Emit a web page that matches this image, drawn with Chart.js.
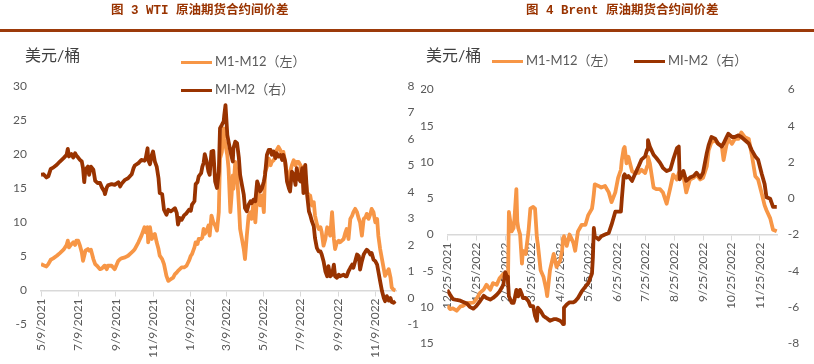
<!DOCTYPE html>
<html>
<head>
<meta charset="utf-8">
<script src="https://cdn.jsdelivr.net/npm/chart.js@4.4.0/dist/chart.umd.min.js"></script>
<style>
  body { margin: 0; background: #fff; }
  #page { position: relative; width: 814px; height: 364px; overflow: hidden; background: #fff;
          font-family: Lato, "Noto Sans CJK SC", sans-serif; }
  #brent { position: absolute; left: 404px; top: 0; z-index: 1; }
  #wtiBox { position: absolute; left: 0; top: 0; width: 421px; height: 364px; background: #fff; z-index: 2; }
  .title { position: absolute; top: 2px; z-index: 3; white-space: nowrap; color: #993300;
           font: bold 12.5px "Liberation Mono", "Noto Sans CJK SC", monospace; line-height: 18px; }
  .rule { position: absolute; left: 0; top: 29px; width: 814px; height: 3px; background: #9c3a0a; z-index: 3; }
  .unit { position: absolute; top: 46px; z-index: 3; font-size: 16px; line-height: 18px; color: #404040; }
  .leg { position: absolute; z-index: 3; font-size: 13px; line-height: 16px; color: #595959; white-space: nowrap; }
  .leg i { display: inline-block; width: 31px; height: 3px; vertical-align: middle; margin-right: 3px; }
</style>
</head>
<body>
<div id="page">
  <canvas id="brent" width="410" height="364"></canvas>
  <div id="wtiBox"><canvas id="wti" width="421" height="364"></canvas></div>

  <div class="rule"></div>
  <div class="title" style="left:111px">图 3 WTI 原油期货合约间价差</div>
  <div class="title" style="left:526px">图 4 Brent 原油期货合约间价差</div>

  <div class="unit" style="left:25px">美元/桶</div>
  <div class="unit" style="left:426px">美元/桶</div>

  <div class="leg" style="left:181px;top:53px"><i style="background:#f79646"></i>M1-M12（左）</div>
  <div class="leg" style="left:181px;top:81px"><i style="background:#993300"></i>MI-M2（右）</div>
  <div class="leg" style="left:492px;top:52px"><i style="background:#f79646"></i>M1-M12（左）</div>
  <div class="leg" style="left:634px;top:52px"><i style="background:#993300"></i>MI-M2（右）</div>
</div>

<script>
// series names
var seriesNames = ['M1-M12（左）', 'MI-M2（右）'];

// WTI: days after 5/9/2021
var wtiDays = [0,4,9,12,16,20,26,31,37,42,44,46,50,53,56,58,61,64,67,69,
  71,73,77,79,82,86,89,93,97,100,104,105,108,110,116,121,127,130,132,138,
  143,149,152,154,160,165,170,172,175,176,179,182,184,187,190,193,195,199,202,206,
  209,213,217,220,223,225,228,231,235,239,243,246,248,252,254,257,259,263,265,267,
  269,272,275,277,280,283,
  286,289,292,294,297,300,301,303,304,306,
  308,311,313,315,316,319,322,325,327,330,
  333,335,338,341,344,346,349,352,355,357,
  360,363,366,368,371,374,377,379,382,385,
  387,390,393,396,398,401,404,407,409,412,
  415,418,420,423,426,429,431,434,437,440,
  442,445,448,450,453,456,459,461,464,467,
  470,472,475,478,481,483,486,489,491,497,
  500,502,505,508,511,513,516,519,522,524,
  527,530,533,535,538,541,543,546,549,552,
  554,557,560,563,565,568,571,574,576,579,
  582];
var wtiM1M12 = [3.86,3.71,3.52,3.86,4.5,4.7,5.09,5.48,5.98,6.66,
  7.3,6.32,6.81,7.06,6.66,7.3,7.3,6.57,5.58,4.35,
  5.09,5.83,6.07,5.83,5.98,4.6,3.86,3.52,3.12,3.22,
  3.62,3.52,3.12,3.62,3.62,3.12,4.35,4.6,4.7,4.85,
  5.09,5.58,5.83,6.07,7.06,8.04,9.27,8.53,9.27,7.06,
  9.27,7.55,8.04,8.29,7.06,6.07,5.09,4.6,3.86,2.14,
  1.4,1.65,1.89,2.39,2.63,2.88,3.12,3.37,3.37,3.62,
  4.35,5.09,5.34,6.32,7.06,6.81,7.55,7.55,7.79,9.02,
  8.29,8.78,9.52,8.04,10.99,10.0,
  9.52,8.78,11.48,19.35,20.33,23.77,22.3,21.3,20.8,19.8,
  17.87,11.48,13.94,16.89,14.92,18.86,16.89,12.47,9.02,7.55,
  6.07,4.6,8.04,10.99,11.48,10.5,12.96,10.0,13.94,14.43,
  12.47,13.94,11.48,17.38,18.12,19.35,18.37,18.86,19.1,19.6,
  20.58,21.07,20.58,19.84,20.33,18.86,16.89,15.66,17.38,18.37,
  19.1,18.37,18.86,18.86,18.37,15.91,18.12,16.89,14.43,13.94,
  13.94,12.47,12.96,10.99,9.76,9.02,9.27,8.53,6.57,7.55,
  9.27,9.02,8.04,11.48,7.55,6.07,7.06,7.3,7.06,7.55,
  8.53,9.02,7.55,10.5,10.99,11.48,11.97,11.48,10.5,10.0,
  8.04,10.5,10.75,11.24,10.5,11.24,11.97,11.48,10.0,10.5,
  8.04,6.07,4.6,3.12,2.14,2.63,3.12,1.89,0.42,0.1,
  0.0];
var wtiMIM2 = [4.65,4.67,4.55,4.59,4.87,4.92,5.03,5.15,5.28,5.4,
  5.63,5.34,5.43,5.3,5.46,5.38,5.3,5.21,5.15,4.9,
  4.37,4.84,4.96,4.65,4.96,4.84,4.42,4.34,4.34,4.17,
  4.02,3.92,4.17,4.25,4.3,4.27,4.37,4.21,4.3,4.46,
  4.52,4.67,4.9,5.0,5.09,5.21,5.18,5.28,5.65,5.21,
  5.05,5.4,5.53,5.15,4.96,4.52,3.96,3.92,3.33,3.14,
  3.33,3.27,3.33,3.39,3.2,2.77,3.02,2.95,3.12,3.2,
  3.33,3.29,3.52,3.65,4.3,4.37,4.59,4.71,4.96,5.09,
  5.43,5.15,4.77,4.65,5.53,5.55,
  4.4,4.15,4.77,6.41,6.53,6.66,6.91,7.28,6.91,6.15,
  5.9,5.53,5.34,5.15,5.65,5.9,5.84,5.28,4.65,4.27,
  3.9,3.39,3.27,3.52,3.65,3.58,3.71,3.65,4.4,4.27,
  4.02,4.15,4.4,4.65,5.4,5.59,5.59,5.4,5.53,5.28,
  5.46,5.34,5.4,5.21,5.4,5.15,4.4,4.15,4.02,4.77,
  4.65,4.27,4.9,4.52,4.4,4.9,3.96,5.02,3.9,3.27,
  3.14,2.89,2.7,2.26,1.89,1.76,1.76,1.64,1.39,1.01,
  0.82,1.2,0.82,0.88,1.26,0.82,0.76,0.88,0.82,0.88,
  0.82,0.82,1.01,1.14,1.26,1.14,1.39,1.64,1.58,1.07,
  1.39,1.64,1.76,1.82,1.76,1.64,1.7,1.45,1.39,1.26,
  1.01,0.63,0.26,0.0,-0.12,0.07,-0.1,0.0,-0.15,-0.18,
  -0.12];
var wtiTickLabels = ['5/9/2021','7/9/2021','9/9/2021','11/9/2021','1/9/2022',
  '3/9/2022','5/9/2022','7/9/2022','9/9/2022','11/9/2022'];

// Brent: days after 12/25/2021
var brentDays = [0,3,6,10,14,17,21,24,28,31,
  35,39,42,46,49,53,56,60,62,64,
  65,66,69,71,72,74,75,76,78,80,
  81,84,87,89,92,94,96,97,100,103,
  106,107,110,114,117,121,123,124,125,128,
  131,135,137,140,144,148,151,155,156,157,
  158,162,165,169,173,176,180,183,186,187,
  189,190,192,194,198,201,205,208,212,214,
  215,217,221,224,228,231,235,239,242,246,
  248,249,253,256,260,264,267,271,274,278,
  280,283,287,290,294,296,299,301,305,308,
  312,315,319,323,326,330,333,337,340,342,
  346,349,353];
var brentM1M12 = [-9.83,-10.28,-10.19,-10.5,-9.92,-9.83,-9.47,-9.43,-9.39,-8.94,
  -8.05,-7.6,-6.93,-7.6,-6.7,-6.93,-6.03,-5.45,-5.68,-5.81,
  -6.7,3.12,0.44,0.89,2.23,6.25,1.78,0.89,0.0,-4.02,
  -2.24,-2.68,0.44,3.57,3.8,3.57,-0.45,-1.34,-4.92,-5.81,
  -7.6,-8.49,-4.92,-2.68,-4.47,-3.58,-2.24,-0.45,-0.23,-1.57,
  0.0,-1.12,-2.24,0.44,1.34,1.34,2.68,3.57,4.47,5.58,
  6.92,6.7,6.48,6.7,5.81,4.47,5.81,7.82,8.93,10.27,
  11.84,12.06,9.83,10.72,8.71,8.49,8.49,8.93,8.49,9.38,
  10.72,9.83,6.48,6.25,6.25,5.81,4.24,6.48,8.26,7.59,
  8.49,8.71,8.04,5.81,7.59,7.82,8.26,7.59,7.82,9.38,
  11.62,12.73,12.96,12.51,12.28,10.27,12.28,13.18,12.51,13.18,
  13.18,14.07,13.4,13.18,11.17,8.04,7.59,5.58,4.02,3.35,
  2.23,0.67,0.44];
var brentMIM2 = [-5.05,-5.32,-5.56,-5.61,-5.65,-5.72,-5.81,-5.99,-6.09,-5.95,
  -5.68,-5.38,-5.5,-5.59,-5.5,-5.32,-5.14,-4.78,-4.07,-4.33,
  -4.51,-5.41,-5.77,-5.77,-5.59,-5.05,-5.14,-5.41,-5.05,-5.32,
  -5.5,-5.5,-5.68,-5.95,-5.95,-6.49,-6.76,-6.04,-6.22,-6.49,
  -6.6,-6.63,-6.76,-6.67,-6.67,-6.76,-6.85,-6.94,-6.04,-5.86,
  -5.74,-5.74,-5.68,-5.5,-5.14,-4.87,-4.69,-4.16,-3.26,-1.64,
  -2.09,-2.27,-2.09,-2.0,-1.91,-1.46,-0.74,-0.74,-0.74,-0.03,
  1.23,1.32,1.14,1.23,0.96,1.32,1.77,2.13,2.31,2.67,
  3.2,2.85,2.4,2.22,1.95,1.68,1.5,1.59,2.13,2.76,
  2.85,1.05,1.5,0.96,1.14,1.23,1.41,1.14,1.41,2.49,
  2.93,3.38,3.29,3.02,2.85,3.02,3.35,3.56,3.38,3.38,
  3.47,3.38,3.2,3.02,2.67,2.31,2.13,1.32,0.78,0.06,
  -0.03,-0.48,-0.48];
var brentTickLabels = ['12/25/2021','1/25/2022','2/25/2022','3/25/2022','4/25/2022','5/25/2022',
  '6/25/2022','7/25/2022','8/25/2022','9/25/2022','10/25/2022','11/25/2022'];

function toUTC(label) {
  var p = label.split('/').map(Number);
  return Date.UTC(p[2], p[0] - 1, p[1]);
}

function spreadChart(id, o) {
  var t0 = toUTC(o.tickLabels[0]);
  var tickDays = o.tickLabels.map(function (l) { return (toUTC(l) - t0) / 86400000; });
  var tickFont = { family: 'Lato, "Noto Sans CJK SC", sans-serif', size: 12 };

  return new Chart(document.getElementById(id), {
    type: 'line',
    data: {
      datasets: [{
        label: seriesNames[0],
        data: o.days.map(function (d, i) { return { x: d, y: o.m12[i] }; }),
        yAxisID: 'y',
        borderColor: '#f79646',
        order: 1
      }, {
        label: seriesNames[1],
        data: o.days.map(function (d, i) { return { x: d, y: o.m2[i] }; }),
        yAxisID: 'y1',
        borderColor: '#993300',
        order: 0
      }]
    },
    options: {
      responsive: false,
      animation: false,
      layout: { padding: { top: o.top, bottom: o.bottom, left: 0, right: 0 } },
      elements: {
        point: { radius: 0 },
        line: { borderWidth: 3.8, tension: 0, borderJoinStyle: 'round' }
      },
      plugins: { legend: { display: false }, tooltip: { enabled: false } },
      scales: {
        x: {
          type: 'linear',
          position: { y: 0 },
          min: 0,
          max: o.xMax,
          afterBuildTicks: function (s) { s.ticks = tickDays.map(function (v) { return { value: v }; }); },
          ticks: {
            autoSkip: false, minRotation: 90, maxRotation: 90, padding: 3,
            color: '#595959', font: tickFont,
            callback: function (v, i) { return o.tickLabels[i]; }
          },
          grid: { drawOnChartArea: false, tickLength: 5, color: '#d9d9d9', lineWidth: 1 },
          border: { color: '#d9d9d9', width: 1.5 }
        },
        y: {
          position: 'left',
          min: o.yMin, max: o.yMax,
          ticks: { stepSize: o.yStep, padding: o.leftPad, color: '#595959', font: tickFont },
          grid: { display: false, drawTicks: false },
          border: { display: false },
          afterFit: function (s) { s.width = o.leftW; }
        },
        y1: {
          position: 'right',
          min: o.y1Min, max: o.y1Max,
          ticks: { stepSize: o.y1Step, padding: o.rightPad, color: '#595959', font: tickFont },
          grid: { display: false, drawTicks: false },
          border: { display: false },
          afterFit: function (s) { s.width = o.rightW; }
        }
      }
    }
  });
}

spreadChart('wti', {
  days: wtiDays, m12: wtiM1M12, m2: wtiMIM2, tickLabels: wtiTickLabels,
  xMax: 584, top: 86, bottom: 39.5, leftW: 41, rightW: 24.4, leftPad: 14, rightPad: 11,
  yMin: -5, yMax: 30, yStep: 5, y1Min: -1, y1Max: 8, y1Step: 1
});

spreadChart('brent', {
  days: brentDays, m12: brentM1M12, m2: brentMIM2, tickLabels: brentTickLabels,
  xMax: 354, top: 89.5, bottom: 14, leftW: 43.3, rightW: 36.3, leftPad: 13.5, rightPad: 10,
  yMin: -15, yMax: 20, yStep: 5, y1Min: -8, y1Max: 6, y1Step: 2
});
</script>
</body>
</html>
